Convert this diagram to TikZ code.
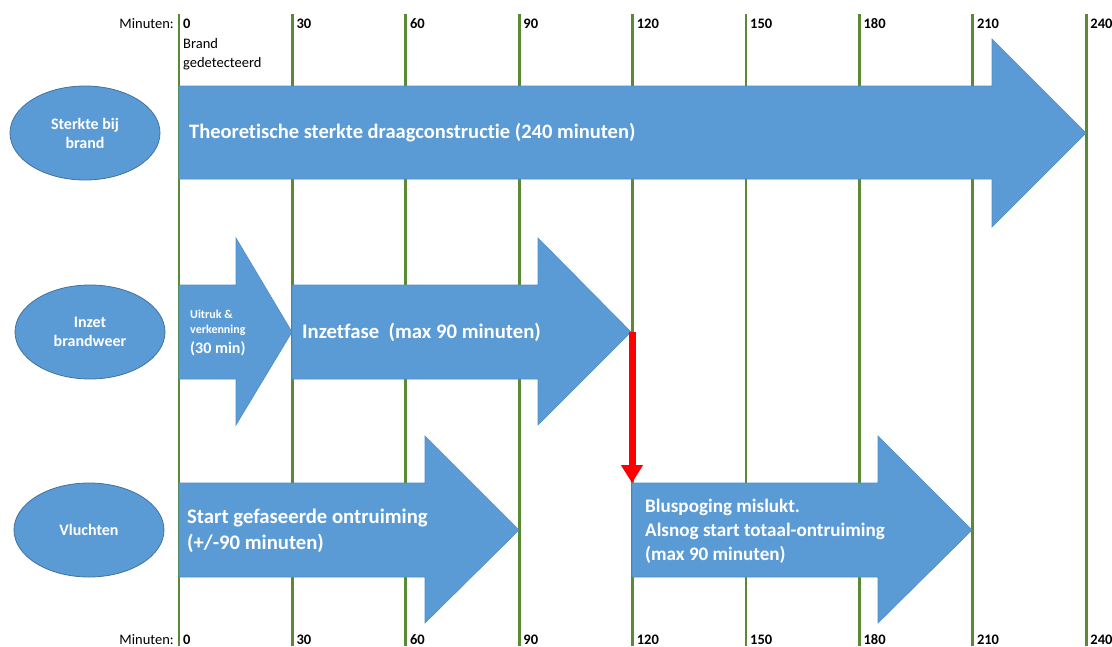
\documentclass[tikz,border=0pt]{standalone}
\usepackage{fontspec}
\setmainfont{Carlito}[Ligatures=NoCommon]
\usepackage{tikz}
\usetikzlibrary{arrows.meta,shapes.geometric}
\definecolor{barfill}{HTML}{5B9BD5}
\definecolor{barline}{HTML}{4F8DC6}
\definecolor{ovalline}{HTML}{41719C}
\definecolor{grid}{HTML}{5A8A34}
\definecolor{alarm}{HTML}{FF0000}
\tikzset{
  barrow/.style={fill=barfill, draw=barline, line width=0.6pt},
  gridline/.style={draw=grid, line width=2.8pt},
  phase/.style={ellipse, fill=barfill, draw=ovalline, line width=0.8pt,
    minimum width=150pt, minimum height=94pt, inner sep=0pt, align=center,
    text=white, font=\bfseries\fontsize{16}{19}\selectfont},
  bartext/.style={text=white, anchor=west, align=left, inner sep=0pt,
    font=\bfseries\fontsize{20.7}{25.5}\selectfont},
  ticklab/.style={anchor=base west, inner sep=0pt, font=\bfseries\fontsize{14.5}{17}\selectfont},
  axislab/.style={anchor=base east, inner sep=0pt, font=\fontsize{14.5}{17}\selectfont},
  failarrow/.style={draw=alarm, line width=7pt, -{Triangle[width=21pt,length=18pt]}}
}
\begin{document}
\begin{tikzpicture}[x=1pt,y=-1pt]
  \useasboundingbox (0,0) rectangle (1112,646);

  % time axis
  \foreach \t in {0,30,...,240} {
    \draw[gridline] ({179+3.78*\t},14) -- ({179+3.78*\t},646);
    \node[ticklab] (top\t) at ({183+3.78*\t},28) {\t};
    \node[ticklab] (bot\t) at ({183+3.78*\t},644) {\t};
  }
  \node[axislab] (topmin) at (174,28) {Minuten:};
  \node[axislab] (botmin) at (174,644) {Minuten:};
  \node[anchor=base west, inner sep=0pt, align=left, font=\fontsize{14.5}{19}\selectfont]
    (detect) at (183,67) {Brand\\gedetecteerd};

  % rows
  \node[phase] (sterkte) at (85,133) {Sterkte bij\\brand};
  \node[phase] (inzet) at (90,332) {Inzet\\brandweer};
  \node[phase] (vlucht) at (89,530) {Vluchten};

  % bar: sterkte
  \draw[barrow] (179,86) -- (992,86) -- (992,39) -- (1086,133) -- (992,227)
    -- (992,179) -- (179,179) -- cycle;
  \node[bartext, font=\bfseries\fontsize{20.5}{25}\selectfont] (theorie) at (189,133)
    {Theoretische sterkte draagconstructie (240 minuten)};

  % bars: brandweer
  \draw[barrow] (179,285) -- (236,285) -- (236,238) -- (292,332) -- (236,425)
    -- (236,379) -- (179,379) -- cycle;
  \draw[barrow] (292,285) -- (538,285) -- (538,238) -- (631,332) -- (538,425)
    -- (538,379) -- (292,379) -- cycle;
  \node[anchor=base west, inner sep=0pt, text=white, align=left,
    font=\bfseries\fontsize{12}{15}\selectfont] (uitruk) at (190,333) {Uitruk \&\\verkenning};
  \node[anchor=base west, inner sep=0pt, text=white,
    font=\bfseries\fontsize{16}{19}\selectfont] (uitrukmin) at (190,353) {(30 min)};
  \node[bartext] (inzetfase) at (302,332) {Inzetfase~~(max 90 minuten)};

  % bars: vluchten
  \draw[barrow] (179,483) -- (425,483) -- (425,436) -- (519,530) -- (425,623)
    -- (425,577) -- (179,577) -- cycle;
  \draw[barrow] (632,483) -- (878,483) -- (878,436) -- (972,530) -- (878,623)
    -- (878,577) -- (632,577) -- cycle;
  \node[bartext] (gefaseerd) at (187,531) {Start gefaseerde ontruiming\\(+/-90 minuten)};
  \node[bartext, font=\bfseries\fontsize{19.1}{24}\selectfont] (totaal) at (645,531)
    {Bluspoging mislukt.\\Alsnog start totaal-ontruiming\\(max 90 minuten)};

  % failed attempt
  \coordinate (inzettip) at (632,332);
  \coordinate (blusstart) at (632,483);
  \draw[failarrow] (inzettip) -- (blusstart);
\end{tikzpicture}
\end{document}
